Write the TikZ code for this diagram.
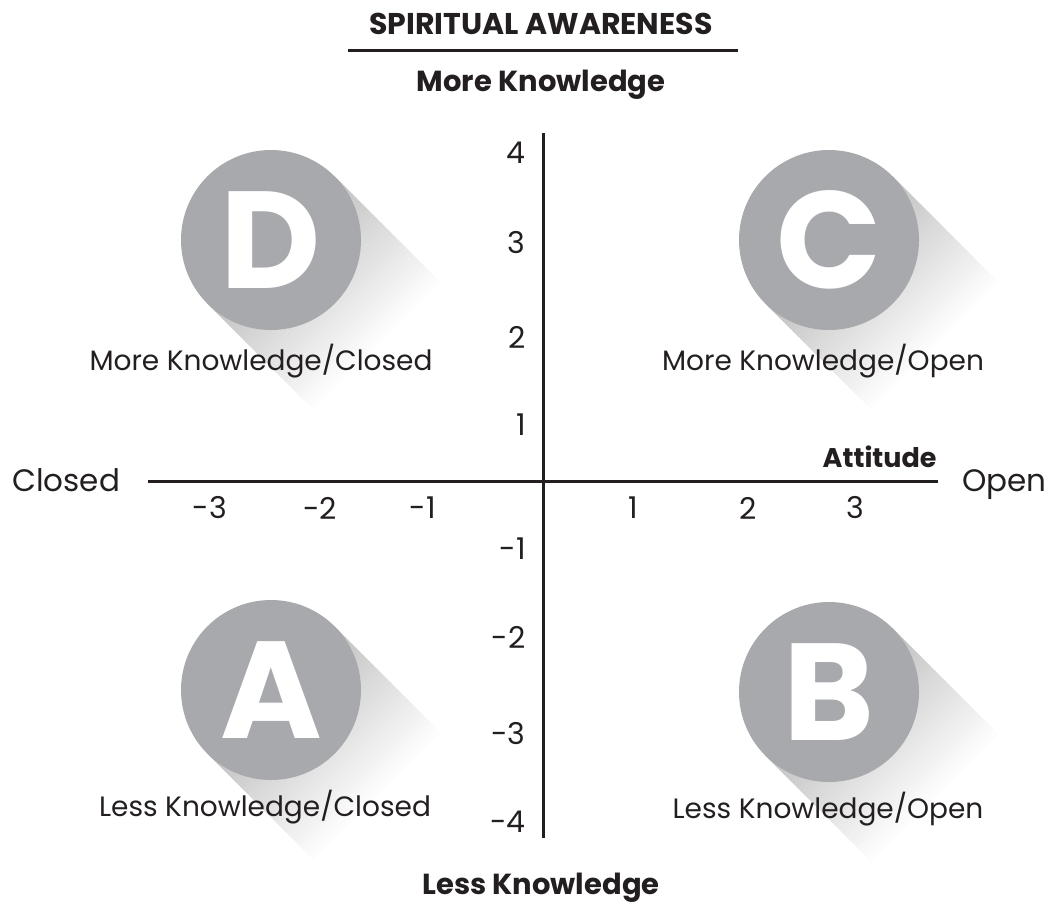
\documentclass[tikz,border=0pt]{standalone}
\usepackage{fontspec}
\setmainfont{Poppins}
\usepackage{tikz}
\definecolor{ink}{HTML}{231F20}
\definecolor{discgray}{HTML}{A7A9AC}
\usetikzlibrary{positioning}

\begin{document}
\begin{tikzpicture}[x=0.5pt, y=-0.5pt,
                line cap=butt,
                axis/.style={ink, line width=1.5pt},
                rule/.style={ink, line width=1.5pt},
                lab/.style={ink, inner sep=0pt, font=\fontsize{14}{16}\selectfont},
                bold/.style={ink, inner sep=0pt, font=\fontsize{14.5}{16}\selectfont\bfseries},
                tick/.style={ink, inner sep=0pt, font=\fontsize{15}{16}\selectfont},
                disc/.style={circle, fill=discgray, minimum size=90pt, inner sep=0pt,
                             text=white, font=\fontsize{69}{69}\selectfont\bfseries}]
                \useasboundingbox (0,0) rectangle (1052,911);
                \def\R{90}     % disc radius in px
                \def\nStrips{30} % slices of the long shadow
                \def\dT{5}     % width of one slice

                % title and axis names
                \node[bold, font=\fontsize{15}{16}\selectfont\bfseries] (title) at (541,24) {SPIRITUAL AWARENESS};
                \coordinate (ul) at (348,50);
                \coordinate (ur) at (738,50);
                \draw[rule] (ul) -- (ur);
                \node[bold] (more) at (541,85) {More Knowledge};
                \node[bold] (less) at (541,888) {Less Knowledge};
                \node[bold, font=\fontsize{13.5}{16}\selectfont\bfseries, anchor=east] (att) at (937,457) {Attitude};
                \node[lab, font=\fontsize{15.5}{16}\selectfont, anchor=base west] (closed) at (12,491) {Closed};
                \node[lab, font=\fontsize{15.5}{16}\selectfont, anchor=base west] (open) at (962,491) {Open};

                % main axes
                \coordinate (west) at (148,481);
                \coordinate (east) at (938,481);
                \coordinate (north) at (543,133);
                \coordinate (south) at (543,838);
                \draw[axis] (west) -- (east);
                \draw[axis] (north) -- (south);

                % tick labels
                \foreach \v/\px in {-3/210, -2/320, -1/423, 1/633, 2/748, 3/855}{
                    \node[tick] (x\v) at (\px,508) {\v};
                }
                \foreach \v/\py in {4/153, 3/243, 2/337, 1/425, -1/549, -2/637, -3/733, -4/822}{
                    \node[tick, anchor=east] (y\v) at (526,\py) {\v};
                }

                % discs with long shadow (slices fading to white)
                \foreach \name/\cx/\cy in {D/271/240, C/829/240, A/271/690, B/829/692}{
                    \foreach \i [evaluate={\t=\i*\dT; \p=25*(1-\i/\nStrips);}] in {0,...,\nStrips}{
                        \fill[black!\p]
                            (\cx+0.707*\t+0.707*\R, \cy+0.707*\t-0.707*\R)
                            -- (\cx+0.707*\t+0.707*\dT+0.707+0.707*\R, \cy+0.707*\t+0.707*\dT+0.707-0.707*\R)
                            -- (\cx+0.707*\t+0.707*\dT+0.707-0.707*\R, \cy+0.707*\t+0.707*\dT+0.707+0.707*\R)
                            -- (\cx+0.707*\t-0.707*\R, \cy+0.707*\t+0.707*\R) -- cycle;
                    }
                    \node[disc] (\name) at (\cx,\cy) {\name};
                }

                % quadrant names
                \node[lab] (labD) at (261,361) {More Knowledge/Closed};
                \node[lab] (labC) at (823,361) {More Knowledge/Open};
                \node[lab] (labA) at (265,807) {Less Knowledge/Closed};
                \node[lab] (labB) at (828,809) {Less Knowledge/Open};
\end{tikzpicture}
\end{document}
